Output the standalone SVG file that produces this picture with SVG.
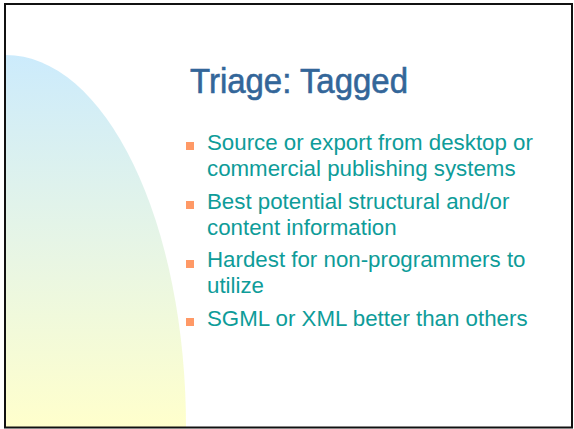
<svg xmlns="http://www.w3.org/2000/svg" width="574" height="429" viewBox="0 0 574 429">
  <defs>
    <linearGradient id="sideFade" x1="0" y1="55" x2="0" y2="427" gradientUnits="userSpaceOnUse">
      <stop offset="0" stop-color="#CCEBFC"/>
      <stop offset="0.5" stop-color="#E6F5E6"/>
      <stop offset="1" stop-color="#FFFFCC"/>
    </linearGradient>
  </defs>
  <style>
    .title { font-family: "Liberation Sans Narrow", "Liberation Sans", Arial, sans-serif; font-size: 35px; fill: #336699; stroke: #336699; stroke-width: 0.6px; }
    .item { font-family: "Liberation Sans", Arial, sans-serif; font-size: 22.3px; fill: #0E9C99; }
    .mark { fill: #FF9966; }
  </style>

  <rect x="0" y="0" width="574" height="429" fill="#ffffff"/>

  <!-- quarter-ellipse backdrop on the left -->
  <path d="M6,427 L6,55 A180,372 0 0 1 186,427 Z" fill="url(#sideFade)"/>

  <!-- slide frame -->
  <rect x="5" y="4" width="567" height="423.5" fill="none" stroke="#111111" stroke-width="2"/>

  <g id="title">
    <text class="title" x="190" y="93" textLength="218" lengthAdjust="spacingAndGlyphs">Triage: Tagged</text>
  </g>

  <g id="bullet-1">
    <rect class="mark" x="186" y="142" width="8" height="8"/>
    <text class="item" x="207" y="150">Source or export from desktop or</text>
    <text class="item" x="207" y="176">commercial publishing systems</text>
  </g>
  <g id="bullet-2">
    <rect class="mark" x="186" y="201" width="8" height="8"/>
    <text class="item" x="207" y="208.5">Best potential structural and/or</text>
    <text class="item" x="207" y="234.5">content information</text>
  </g>
  <g id="bullet-3">
    <rect class="mark" x="186" y="260" width="8" height="8"/>
    <text class="item" x="207" y="267">Hardest for non-programmers to</text>
    <text class="item" x="207" y="293">utilize</text>
  </g>
  <g id="bullet-4">
    <rect class="mark" x="186" y="318" width="8" height="8"/>
    <text class="item" x="207" y="325.5">SGML or XML better than others</text>
  </g>
</svg>
